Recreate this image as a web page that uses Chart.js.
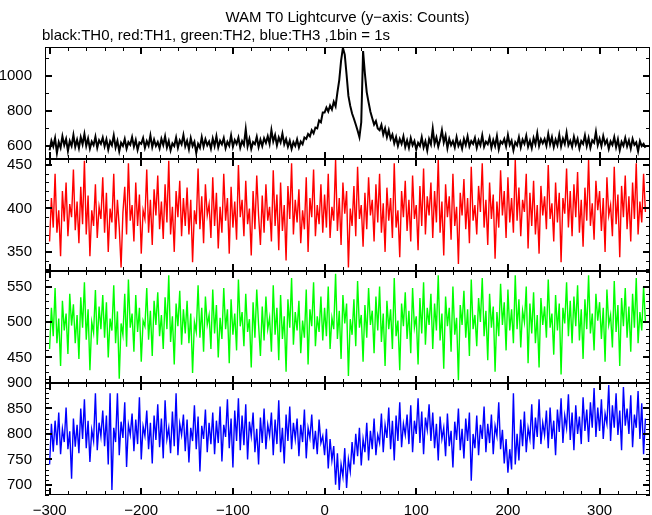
<!DOCTYPE html>
<html>
<head>
<meta charset="utf-8">
<title>WAM T0 Lightcurve</title>
<script src="https://cdn.jsdelivr.net/npm/chart.js@4.4.1/dist/chart.umd.min.js"></script>
<style>
  html, body { margin: 0; padding: 0; background: #fff; }
</style>
</head>
<body>
<canvas id="myChart" width="652" height="515"></canvas>
<script>
// time bins: first bin and bin width in seconds (1bin = 1s, read every 2 s)
const binStart = -300;
const binWidth = 2;

// counts, 15 bins per row (30 s)
const th0 = [
  575,630,598,645,560,622,590,655,605,640,572,628,600,662,595,
  635,588,650,610,668,600,642,585,625,605,652,590,632,612,648,
  598,638,580,626,604,660,592,630,570,618,600,640,585,622,607,
  650,596,634,578,620,612,645,590,628,602,660,594,636,600,622,
  587,640,606,655,592,628,575,615,600,648,590,632,610,662,598,
  630,582,645,600,624,560,612,590,650,596,638,604,625,585,642,
  600,655,592,630,610,645,588,624,602,660,596,634,612,648,590,
  628,606,695,598,640,584,622,610,652,594,636,600,644,618,655,
  612,690,626,662,604,648,620,670,610,640,596,630,584,622,600,
  638,592,625,610,648,640,668,655,690,672,705,700,745,735,790,
  790,818,796,830,808,852,826,905,975,1085,1158,1120,1005,885,828,
  785,755,722,688,650,735,1140,1010,905,848,795,758,722,742,700,
  690,720,665,700,650,690,640,665,615,650,600,640,612,655,595,
  632,590,645,604,628,580,618,600,650,592,626,575,640,610,698,
  612,648,596,635,690,620,660,588,640,605,628,592,650,600,625,
  585,640,606,655,598,628,612,646,590,632,604,660,596,625,610,
  648,590,634,600,656,582,626,614,640,598,662,606,630,575,622,
  604,650,592,636,612,658,596,630,588,645,610,672,600,638,615,
  640,602,668,610,650,594,636,605,664,598,642,612,675,604,630,
  596,652,608,640,586,628,612,660,600,645,590,632,618,680,605,
  642,600,656,612,634,584,626,606,650,594,638,576,624,602,646,
  598,632,585,640,606,620,570,628,600,612,590
];
const th1 = [
  362,412,378,440,372,398,345,420,385,430,368,405,390,445,375,
  408,360,425,382,455,370,415,345,398,380,428,366,402,388,436,
  372,418,350,400,384,440,365,410,378,332,395,425,370,452,386,
  404,362,430,380,416,348,398,388,445,372,410,358,422,392,438,
  376,408,365,428,384,455,370,402,350,420,390,432,368,412,380,
  424,370,410,338,398,382,446,376,414,360,428,392,405,366,436,
  380,418,354,402,372,440,386,412,348,425,378,408,364,450,390,
  410,368,432,382,400,346,420,376,438,392,358,415,372,428,386,
  402,362,444,380,416,352,430,374,404,340,426,388,452,370,410,
  384,422,360,398,376,436,350,412,390,445,368,404,382,428,372,
  416,378,440,366,402,386,456,374,412,358,430,394,420,332,400,
  380,426,368,448,388,404,356,418,376,436,392,410,362,428,384,
  440,372,406,350,424,386,412,366,452,378,398,344,420,390,432,
  374,410,362,438,388,404,352,426,380,446,370,414,392,430,366,
  420,384,456,372,408,346,428,390,414,364,440,380,402,336,418,
  392,434,376,412,360,448,386,404,370,426,396,452,378,410,358,
  430,388,416,342,408,378,444,392,420,366,436,384,412,372,456,
  386,424,368,410,396,440,354,418,380,432,370,404,348,426,392,
  414,376,450,388,406,362,430,384,418,338,412,394,446,378,420,
  368,428,390,442,372,410,356,424,386,456,380,406,364,432,398,
  420,374,412,350,436,392,404,368,448,382,416,344,426,390,438,
  376,414,362,430,388,452,370,408,384,440,396
];
const th2 = [
  462,520,480,548,470,505,438,530,488,512,455,540,495,525,470,
  510,448,535,492,556,475,518,432,500,485,545,468,522,490,538,
  478,528,450,505,488,552,470,515,420,498,482,540,465,560,492,
  512,458,538,486,520,444,502,494,548,475,516,452,530,496,542,
  480,510,462,535,490,566,472,508,440,526,494,544,468,518,484,
  530,470,512,428,500,486,552,478,520,458,536,496,510,462,546,
  484,524,450,506,476,548,490,518,442,532,482,512,460,560,494,
  514,466,540,486,504,436,528,478,546,496,452,522,474,536,490,
  506,458,552,482,520,446,538,476,508,430,532,492,562,468,514,
  488,530,456,502,478,546,440,518,494,556,466,508,486,536,474,
  520,480,550,462,506,490,568,476,516,448,538,498,526,424,504,
  482,532,466,558,492,510,444,524,478,548,496,516,456,536,488,
  550,472,512,438,530,490,518,462,562,480,502,432,526,494,542,
  476,516,456,548,492,508,440,534,484,556,468,520,496,540,462,
  526,488,566,474,512,434,536,494,520,458,550,482,506,418,524,
  496,544,478,518,452,560,490,510,466,534,500,562,480,516,446,
  540,492,522,430,514,480,554,496,528,460,546,488,518,470,566,
  490,532,464,516,500,550,442,526,484,542,470,510,436,534,496,
  522,478,560,492,512,454,538,488,526,426,520,498,556,480,530,
  470,536,494,552,474,518,448,532,490,566,484,512,460,540,502,
  528,476,520,444,546,496,510,464,558,486,524,438,534,494,548,
  478,522,458,540,492,562,470,514,488,550,500
];
const th3 = [
  740,820,765,826,778,842,760,810,784,852,770,805,712,830,775,
  818,762,850,790,868,772,826,745,808,786,880,768,822,795,846,
  776,836,740,880,690,812,784,880,758,824,792,862,735,818,798,
  840,766,828,780,872,750,815,796,846,770,822,742,836,788,858,
  774,830,752,866,790,812,762,844,776,880,758,820,798,838,766,
  828,744,812,786,856,770,834,726,816,790,848,764,822,780,842,
  760,826,782,854,746,818,794,868,772,830,734,846,786,870,768,
  836,778,858,750,824,796,842,764,810,740,832,782,850,770,818,
  796,842,758,828,780,866,764,812,742,838,786,854,770,822,790,
  830,756,818,784,848,752,812,792,838,770,806,760,828,782,796,
  758,810,732,790,748,776,700,762,690,740,716,772,694,750,726,
  784,740,800,756,812,738,790,764,822,748,806,770,830,758,798,
  782,840,764,818,792,852,770,826,748,836,786,862,774,820,798,
  838,780,856,764,826,800,870,782,844,760,832,808,858,786,842,
  772,820,748,834,790,812,756,840,776,806,734,824,788,850,768,
  810,752,830,786,842,708,800,772,836,758,818,790,854,764,820,
  782,838,760,816,796,862,770,808,742,790,724,770,730,880,740,
  800,748,828,776,844,764,812,790,858,770,832,794,868,780,822,
  798,846,772,852,790,826,758,848,804,870,782,836,812,878,788,
  842,768,856,800,834,780,872,806,848,784,862,812,890,794,852,
  806,868,790,840,820,896,786,856,812,880,798,846,768,892,816,
  850,800,876,774,838,812,884,790,860,760,830
];

// tick labels
const xTicks = [-300, -200, -100, 0, 100, 200, 300];
const th0Ticks = [600, 800, 1000];
const th1Ticks = [350, 400, 450];
const th2Ticks = [450, 500, 550];
const th3Ticks = [700, 750, 800, 850, 900];

const titleText = 'WAM T0 Lightcurve (y\u2212axis: Counts)';
const subText = 'black:TH0, red:TH1, green:TH2, blue:TH3 ,1bin = 1s';

const panels = [
  { id: 'y1', values: th0, ticks: th0Ticks, color: '#000000', width: 2, min: 526, max: 1163, minor: 100 },
  { id: 'y2', values: th1, ticks: th1Ticks, color: '#ff0000', width: 1.4, min: 328, max: 457, minor: 10 },
  { id: 'y3', values: th2, ticks: th2Ticks, color: '#00ff00', width: 1.4, min: 414, max: 572, minor: 10 },
  { id: 'y4', values: th3, ticks: th3Ticks, color: '#0000ff', width: 1.4, min: 680, max: 900, minor: 10 }
];

const fontFamily = '"Liberation Sans", Arial, Helvetica, sans-serif';
Chart.defaults.color = '#000';
Chart.defaults.font.family = fontFamily;
Chart.defaults.font.size = 15;

function fmt(v) {
  return v < 0 ? '\u2212' + Math.abs(v) : String(v);
}

let scales = {
  x: {
    type: 'linear', min: -305, max: 355,
    grid: { display: false }, border: { display: false },
    afterBuildTicks: s => { s.ticks = xTicks.map(v => ({ value: v })); },
    afterFit: s => { s.height = 20; },
    ticks: { padding: -1, autoSkip: false, maxRotation: 0, callback: v => fmt(v) }
  }
};
panels.forEach((p, i) => {
  scales[p.id] = {
    type: 'linear', position: 'left', stack: 'lc', stackWeight: 1, weight: 4 - i,
    min: p.min, max: p.max,
    grid: { display: false }, border: { display: false },
    afterBuildTicks: s => { s.ticks = p.ticks.map(v => ({ value: v })); },
    afterFit: s => { s.width = 45; },
    ticks: { padding: 5, autoSkip: false, callback: v => String(v) }
  };
});

// frames, inward ticks and the two text lines
const framePlugin = {
  id: 'frames',
  afterDatasetsDraw(chart) {
    const ctx = chart.ctx;
    const a = chart.chartArea;
    const xs = chart.scales.x;
    ctx.save();
    ctx.strokeStyle = '#000';
    panels.forEach(p => {
      const s = chart.scales[p.id];
      const top = Math.round(s.top), bottom = Math.round(s.bottom);
      ctx.lineWidth = 1;
      ctx.strokeRect(a.left + 0.5, top + 0.5, a.right - a.left - 1, bottom - top - 1);
      for (let v = -300; v <= 350; v += 20) {
        const big = v % 100 === 0;
        const px = Math.round(xs.getPixelForValue(v)) + (big ? 0 : 0.5);
        const len = big ? 7 : 4;
        ctx.lineWidth = big ? 2 : 1;
        ctx.beginPath();
        ctx.moveTo(px, top); ctx.lineTo(px, top + len);
        ctx.moveTo(px, bottom); ctx.lineTo(px, bottom - len);
        ctx.stroke();
      }
      const first = Math.ceil(p.min / p.minor) * p.minor;
      for (let v = first; v <= p.max; v += p.minor) {
        const big = p.ticks.indexOf(v) >= 0;
        const py = Math.round(s.getPixelForValue(v)) + (big ? 0 : 0.5);
        const len = big ? 7 : 4;
        ctx.lineWidth = big ? 2 : 1;
        ctx.beginPath();
        ctx.moveTo(a.left, py); ctx.lineTo(a.left + len, py);
        ctx.moveTo(a.right, py); ctx.lineTo(a.right - len, py);
        ctx.stroke();
      }
    });
    ctx.fillStyle = '#000';
    ctx.font = '15px ' + fontFamily;
    ctx.textBaseline = 'alphabetic';
    ctx.textAlign = 'center';
    ctx.fillText(titleText, (a.left + a.right) / 2, 22);
    ctx.textAlign = 'left';
    ctx.fillText(subText, 42, 40);
    ctx.restore();
  }
};

let ctx = document.getElementById('myChart').getContext('2d');
let chart = new Chart(ctx, {
  type: 'line',
  data: {
    datasets: panels.map(p => ({
      data: p.values.map((v, i) => ({ x: binStart + i * binWidth, y: v })),
      yAxisID: p.id,
      borderColor: p.color,
      borderWidth: p.width,
      pointRadius: 0,
      tension: 0
    }))
  },
  options: {
    responsive: false,
    animation: false,
    layout: { padding: { top: 47, right: 2, bottom: 0, left: 0 } },
    plugins: { legend: { display: false }, tooltip: { enabled: false } },
    scales: scales
  },
  plugins: [framePlugin]
});
</script>
</body>
</html>
